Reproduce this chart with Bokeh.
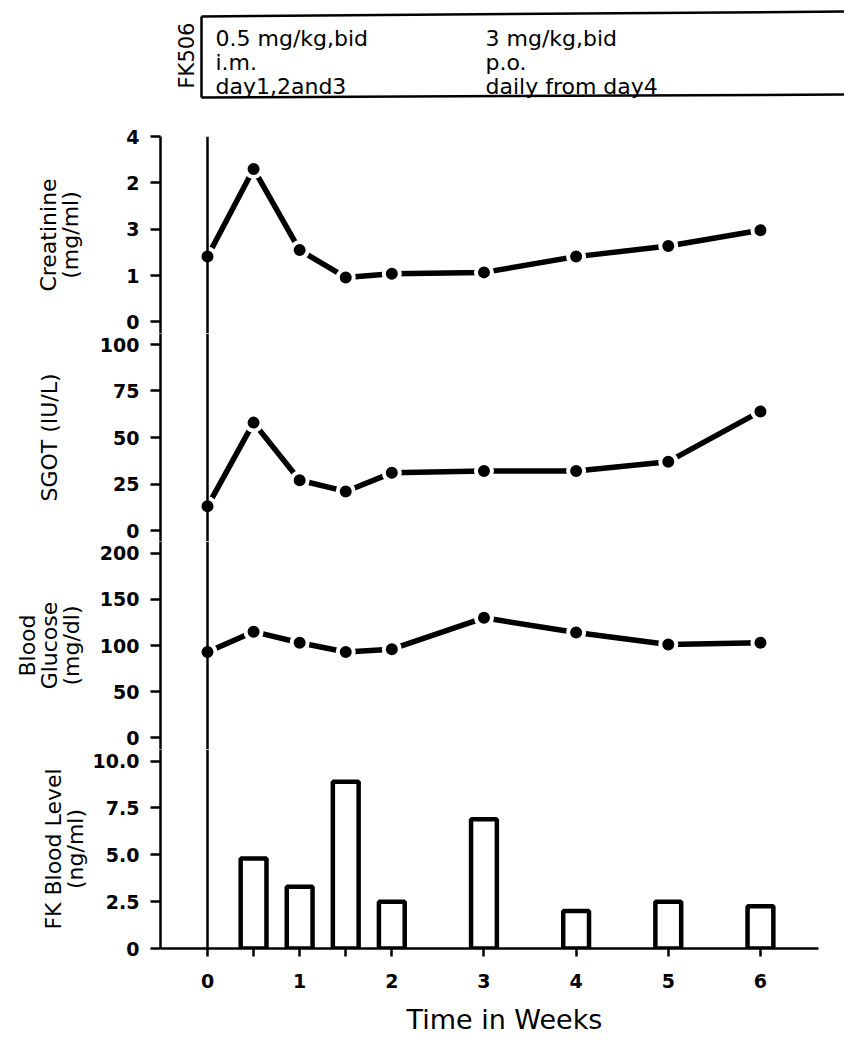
import math
from bokeh.plotting import figure
from bokeh.layouts import column
from bokeh.models import Range1d, FixedTicker, Span, Title
from bokeh.core.properties import value
from bokeh.embed import file_html
from bokeh.resources import INLINE

# ---------------- data ----------------
WEEKS = [0, 0.5, 1, 1.5, 2, 3, 4, 5, 6]
CREATININE = [1.41, 3.30, 1.55, 0.96, 1.04, 1.07, 1.41, 1.64, 1.98]
SGOT = [13, 58, 27, 21, 31, 32, 32, 37, 64]
GLUCOSE = [93, 115, 103, 93, 96, 130, 114, 101, 103]
FK_WEEKS = [0.5, 1, 1.5, 2, 3, 4, 5, 6]
FK_LEVEL = [4.8, 3.3, 8.9, 2.5, 6.9, 2.0, 2.5, 2.25]

X_TICKS = [0, 1, 2, 3, 4, 5, 6]
X_MINOR_TICKS = [0.5, 1.5]
CREAT_TICKS = [0, 1, 2, 3, 4]
CREAT_TICK_LABELS = ["0", "1", "3", "2", "4"]
SGOT_TICKS = [0, 25, 50, 75, 100]
SGOT_TICK_LABELS = ["0", "25", "50", "75", "100"]
GLU_TICKS = [0, 50, 100, 150, 200]
GLU_TICK_LABELS = ["0", "50", "100", "150", "200"]
FK_TICKS = [0, 2.5, 5, 7.5, 10]
FK_TICK_LABELS = ["0", "2.5", "5.0", "7.5", "10.0"]

DOSE_LEFT = ["0.5 mg/kg,bid", "i.m.", "day1,2and3"]
DOSE_RIGHT = ["3 mg/kg,bid", "p.o.", "daily from day4"]
DRUG = "FK506"

FONT = "DejaVu Sans"
W = 844
xr = Range1d(-0.51, 6.63)


def style_y(p, ticks, labels, title, label_standoff):
    ax = p.yaxis[0]
    ax.ticker = FixedTicker(ticks=ticks)
    ax.major_label_overrides = {t: l for t, l in zip(ticks, labels)}
    ax.axis_line_width = 2.5
    ax.axis_line_color = "black"
    ax.major_tick_out = 10
    ax.major_tick_in = 0
    ax.major_tick_line_width = 2.5
    ax.minor_tick_line_color = None
    ax.major_label_text_font = FONT
    ax.major_label_text_font_style = "bold"
    ax.major_label_text_font_size = "19px"
    ax.major_label_text_color = "black"
    ax.major_label_standoff = 11
    ax.axis_label = title
    ax.axis_label_text_font = FONT
    ax.axis_label_text_font_style = "normal"
    ax.axis_label_text_font_size = "22px"
    ax.axis_label_text_color = "black"
    ax.axis_label_text_line_height = 0.88
    ax.axis_label_standoff = label_standoff


def panel(height, yr, top=0, bottom=0, xaxis=False):
    p = figure(width=W, height=height, x_range=xr, y_range=yr,
               output_backend="svg", toolbar_location=None,
               x_axis_location="below" if xaxis else None,
               min_border_left=160, min_border_right=26,
               min_border_top=top, min_border_bottom=bottom)
    p.grid.visible = False
    p.outline_line_color = None
    p.background_fill_color = "white"
    p.border_fill_color = "white"
    return p


def add_series(p, ys):
    p.line(WEEKS, ys, line_width=5.5, line_color="black", line_cap="round")
    p.scatter(WEEKS, ys, size=16, fill_color="black", line_color="white",
              line_width=4)
    p.add_layout(Span(location=0, dimension="height", line_color="black",
                      line_width=2.5))


# ---------------- header box ----------------
hdr = figure(width=W, height=122, x_range=Range1d(0, W), y_range=Range1d(122, 0),
             output_backend="svg", toolbar_location=None,
             x_axis_location=None, y_axis_location=None, min_border=0)
hdr.frame_align = False
hdr.grid.visible = False
hdr.outline_line_color = None
hdr.line([201, 844], [16, 11], line_color="black", line_width=2.5)
hdr.line([201, 844], [97, 94], line_color="black", line_width=2.5)
hdr.line([201, 201], [16, 97], line_color="black", line_width=2.5)
hdr.text(x=[215] * 3, y=[38, 62, 86], text=DOSE_LEFT, text_font=value(FONT),
         text_font_size="22px", text_baseline="middle", text_color="black")
hdr.text(x=[485] * 3, y=[38, 62, 86], text=DOSE_RIGHT, text_font=value(FONT),
         text_font_size="22px", text_baseline="middle", text_color="black")
hdr.text(x=[186], y=[55], text=[DRUG], angle=math.pi / 2,
         text_font=value(FONT), text_font_size="21px", text_align="center",
         text_baseline="middle", text_color="black")

# ---------------- creatinine ----------------
p1 = panel(211, Range1d(-0.248, 4), top=14)
style_y(p1, CREAT_TICKS, CREAT_TICK_LABELS, "Creatinine\n(mg/ml)", 40)
add_series(p1, CREATININE)

# ---------------- SGOT ----------------
p2 = panel(208, Range1d(-5.91, 105.91))
style_y(p2, SGOT_TICKS, SGOT_TICK_LABELS, "SGOT (IU/L)", 35)
add_series(p2, SGOT)

# ---------------- glucose ----------------
p3 = panel(208, Range1d(-12.68, 212.68))
style_y(p3, GLU_TICKS, GLU_TICK_LABELS, "Blood\nGlucose\n(mg/dl)", 13)
add_series(p3, GLUCOSE)

# ---------------- FK blood level ----------------
p4 = panel(300, Range1d(0, 10.62), bottom=101, xaxis=True)
style_y(p4, FK_TICKS, FK_TICK_LABELS, "FK Blood Level\n(ng/ml)", 2)
p4.vbar(x=FK_WEEKS, top=FK_LEVEL, bottom=0, width=0.28, fill_color="white",
        line_color="black", line_width=4.5)
p4.add_layout(Span(location=0, dimension="height", line_color="black",
                   line_width=2.5))
xa = p4.xaxis[0]
xa.ticker = FixedTicker(ticks=X_TICKS, minor_ticks=X_MINOR_TICKS)
xa.axis_line_width = 2.5
xa.axis_line_color = "black"
xa.major_tick_out = 8
xa.major_tick_in = 0
xa.major_tick_line_width = 2.5
xa.minor_tick_out = 8
xa.minor_tick_in = 0
xa.minor_tick_line_width = 2.5
xa.major_label_text_font = FONT
xa.major_label_text_font_style = "bold"
xa.major_label_text_font_size = "19px"
xa.major_label_text_color = "black"
xa.major_label_standoff = 17
p4.add_layout(Title(text="Time in Weeks", align="left", offset=246, standoff=22,
                    text_font=FONT, text_font_size="27px",
                    text_font_style="normal", text_color="black"), "below")

layout = column(hdr, p1, p2, p3, p4, spacing=0)
open("out.html", "w").write(file_html(layout, INLINE))
